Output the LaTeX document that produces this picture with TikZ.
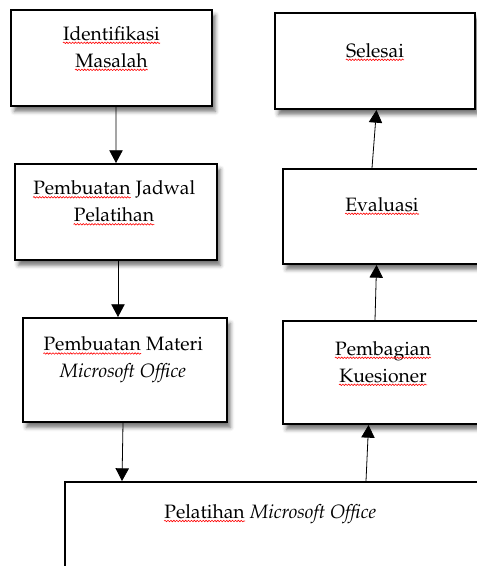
\documentclass[tikz,border=0pt]{standalone}
\usepackage[T1]{fontenc}
\usepackage{mathpazo}
\usetikzlibrary{arrows.meta, shadows.blur, positioning, decorations.pathmorphing}

\newcommand{\salah}[1]{\tikz[baseline=(kata.base)]{%
	\node[inner sep=0pt] (kata) {#1};
	\draw[red, line width=0.45pt, decorate, decoration={snake, amplitude=0.55pt, segment length=2.2pt}]
		([yshift=-2pt]kata.base west) -- ([yshift=-2pt]kata.base east);}}

\begin{document}
\begin{tikzpicture}[x=0.75pt, y=-0.75pt, font=\fontsize{14.5}{20.25}\selectfont]
	\tikzset{
		kotak/.style={draw, line width=1.5pt, fill=white, inner sep=0pt,
			blur shadow={shadow xshift=2.5pt, shadow yshift=-4pt, shadow blur radius=3pt, shadow opacity=55}},
		teks/.style={align=center, inner sep=0pt},
		panah/.style={-{Triangle[width=10pt, length=9.5pt]}, line width=0.6pt},
	}

	\useasboundingbox (0,0) rectangle (476,566);

	% kolom kiri
	\node[kotak, minimum width=150.75pt, minimum height=72pt] (identifikasi) at (111.5,58) {};
	\node[kotak, minimum width=151.5pt, minimum height=72pt] (jadwal) at (116,212) {};
	\node[kotak, minimum width=153pt, minimum height=78pt] (materi) at (125,370) {};
	% kotak bawah dan kolom kanan, terpotong di tepi
	\node[kotak, minimum width=356.25pt, minimum height=118.5pt] (pelatihan) at (302.5,561) {};
	\node[kotak, minimum width=192.75pt, minimum height=77.25pt] (pembagian) at (411.5,372.5) {};
	\node[kotak, minimum width=192.75pt, minimum height=71.25pt] (evaluasi) at (411.5,216.5) {};
	\node[kotak, minimum width=150pt, minimum height=72pt] (selesai) at (375,61) {};

	\node[teks] (identifikasi-teks) at ([yshift=7.1pt]identifikasi.center) {\salah{Identifikasi}\\\salah{Masalah}};
	\node[teks] (jadwal-teks) at ([xshift=-1.5pt, yshift=6.75pt]jadwal.center) {\salah{Pembuatan} Jadwal\\\salah{Pelatihan}};
	\node[teks] (materi-teks) at ([xshift=-1.5pt, yshift=7.5pt]materi.center) {\salah{Pembuatan} Materi\\\textit{Microsoft Office}};
	\node[teks] (pelatihan-teks) at ([xshift=154.5pt, yshift=-24.75pt]pelatihan.north west) {\salah{Pelatihan} \textit{Microsoft Office}};
	\node[teks] (pembagian-teks) at ([xshift=75.75pt, yshift=6.75pt]pembagian.west) {\salah{Pembagian}\\\salah{Kuesioner}};
	\node[teks] (evaluasi-teks) at ([xshift=75pt, yshift=7.9pt]evaluasi.west) {\salah{Evaluasi}};
	\node[teks] (selesai-teks) at ([yshift=6.75pt]selesai.center) {\salah{Selesai}};

	\draw[panah] ([xshift=3.4pt]identifikasi.south) -- (jadwal.north);
	\draw[panah] ([xshift=1.5pt]jadwal.south) -- ([xshift=-5.25pt]materi.north);
	\draw[panah] ([xshift=-1.5pt]materi.south) -- ([xshift=43.5pt]pelatihan.north west);
	\draw[panah] ([xshift=226.5pt]pelatihan.north west) -- ([xshift=64.9pt]pembagian.south west);
	\draw[panah] ([xshift=69.75pt]pembagian.north west) -- ([xshift=70.9pt]evaluasi.south west);
	\draw[panah] ([xshift=67.5pt]evaluasi.north west) -- ([xshift=1.1pt]selesai.south);
\end{tikzpicture}
\end{document}
